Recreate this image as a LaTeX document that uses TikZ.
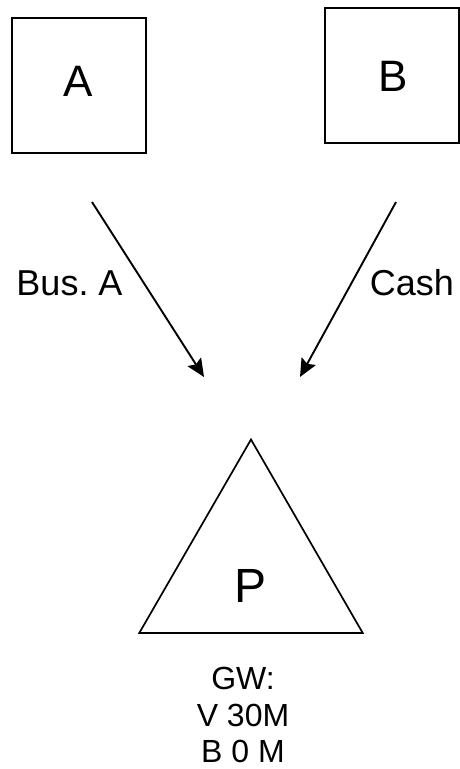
\documentclass[tikz,border=0pt]{standalone}
\usepackage{fontspec}
\setmainfont{Liberation Sans}
\usetikzlibrary{arrows.meta,shapes.geometric}
\frenchspacing

\begin{document}
\begin{tikzpicture}[x=1pt,y=-1pt,
  box/.style={draw=black,line width=1.9pt,inner sep=0pt,minimum width=134pt,minimum height=135pt},
  tri/.style={draw=black,line width=1.7pt,regular polygon,regular polygon sides=3,inner sep=0pt,minimum size=258pt},
  big/.style={font=\fontsize{44}{44}\selectfont,inner sep=0pt,anchor=base},
  lbl/.style={font=\fontsize{36}{36}\selectfont,inner sep=0pt,anchor=base},
  note/.style={font=\fontsize{32}{38}\selectfont,inner sep=0pt,anchor=base},
  flow/.style={draw=black,line width=1.9pt,-{Stealth[length=18pt,width=16pt,inset=3pt]}}
]
\useasboundingbox (0,0) rectangle (459,769);

% the two parties
\node[box] (boxA) at (79,85.5) {};
\node[box] (boxB) at (392,75.5) {};
\node[big] (txtA) at (78,96) {A};
\node[big] (txtB) at (393,91) {B};

% the parent
\node[tri] (triP) at (251,568.5) {};
\node[big,font=\fontsize{48}{48}\selectfont] (txtP) at (251,602.5) {P};

% free ends of the two flows
\coordinate (a1) at (92,202);
\coordinate (a2) at (204,377);
\coordinate (b1) at (396,202);
\coordinate (b2) at (300,377);

\draw[flow] (a1) -- (a2);
\draw[flow] (b1) -- (b2);

\node[lbl] (busA) at (69.5,295) {Bus. A};
\node[lbl] (cash) at (412,295) {Cash};

% goodwill figures
\node[note] (gw1) at (243,689) {GW:};
\node[note] (gw2) at (243,726) {V 30M};
\node[note] (gw3) at (243,762) {B 0 M};
\end{tikzpicture}
\end{document}
